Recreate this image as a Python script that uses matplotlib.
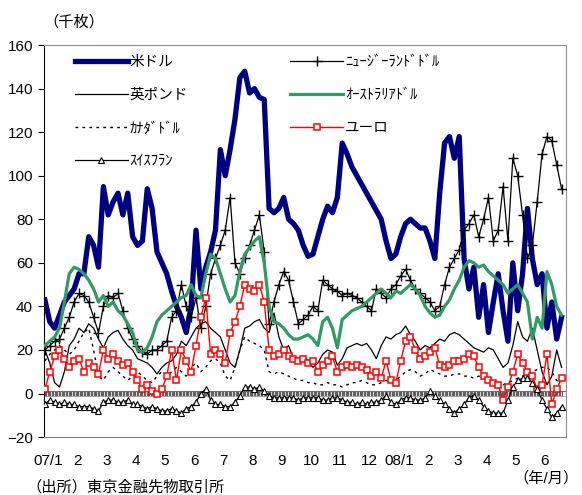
import numpy as np
import matplotlib
matplotlib.use("Agg")
import matplotlib.pyplot as plt

plt.rcParams['font.family'] = ['Liberation Sans', 'Noto Sans CJK JP', 'DejaVu Sans']

# 6 points per month, starting Jan 2007
usd = [43, 33, 30, 36, 42, 45, 48, 55, 55, 72, 68, 58, 95, 82, 88, 92, 82, 92, 72, 68,
       70, 94, 85, 65, 60, 55, 47, 40, 35, 28, 40, 75, 48, 58, 65, 75, 112, 100, 112, 126,
       145, 148, 138, 140, 136, 135, 85, 83, 85, 90, 80, 78, 75, 68, 63, 64, 72, 80, 86, 83,
       90, 115, 110, 104, 100, 96, 92, 88, 84, 80, 70, 62, 64, 72, 78, 80, 78, 76, 76, 70,
       62, 92, 115, 118, 108, 118, 62, 48, 58, 35, 50, 28, 42, 55, 38, 24, 60, 38, 55, 85,
       62, 50, 55, 30, 42, 25, 35]
nzd = [20, 22, 24, 25, 30, 35, 42, 46, 45, 42, 35, 28, 40, 45, 44, 46, 38, 30, 25, 22,
       19, 18, 20, 20, 22, 24, 35, 38, 50, 40, 35, 44, 30, 40, 55, 62, 68, 75, 90, 60,
       55, 62, 68, 75, 82, 65, 32, 42, 50, 56, 52, 42, 32, 34, 36, 40, 38, 52, 50, 48,
       47, 45, 46, 45, 44, 42, 40, 38, 48, 46, 44, 48, 50, 54, 57, 52, 48, 46, 44, 42,
       38, 40, 50, 58, 62, 66, 75, 78, 82, 72, 80, 90, 70, 75, 95, 70, 108, 100, 82, 62,
       68, 88, 110, 118, 116, 105, 94]
gbp = [20, 14, 5, 3, 10, 22, 25, 30, 28, 32, 30, 25, 21, 26, 28, 29, 25, 22, 20, 16,
       15, 14, 12, 9, 12, 14, 15, 18, 24, 22, 26, 30, 32, 33, 30, 28, 26, 20, 14, 12,
       20, 30, 31, 33, 34, 30, 28, 37, 26, 20, 22, 16, 14, 17, 15, 12, 14, 18, 20, 19,
       13, 16, 21, 22, 23, 22, 23, 20, 16, 22, 26, 25, 27, 28, 31, 27, 24, 20, 22, 21,
       23, 25, 24, 27, 28, 27, 25, 23, 21, 20, 19, 21, 20, 16, 12, 14, 22, 33, 26, 24,
       30, 20, 10, 4, 8, 20, 12]
aud = [22, 24, 26, 30, 42, 55, 58, 57, 55, 52, 48, 42, 45, 40, 42, 38, 36, 32, 28, 20,
       19, 21, 26, 33, 36, 38, 40, 42, 44, 45, 50, 45, 44, 55, 64, 62, 55, 48, 42, 45,
       56, 64, 67, 70, 72, 60, 40, 33, 32, 30, 27, 25, 25, 26, 27, 25, 22, 33, 35, 30,
       21, 34, 36, 38, 39, 40, 42, 44, 46, 48, 46, 44, 47, 46, 48, 50, 48, 45, 40, 37,
       35, 36, 40, 43, 48, 52, 58, 61, 60, 58, 59, 56, 54, 52, 50, 46, 48, 50, 46, 42,
       25, 35, 30, 56, 50, 40, 36]
cad = [15, 18, 20, 22, 20, 18, 20, 24, 28, 30, 20, 8, 6, 10, 12, 10, 8, 6, 8, 10,
       8, 6, 5, 8, 10, 8, 10, 12, 10, 8, 12, 14, 10, 12, 15, 16, 14, 8, 6, 12,
       20, 26, 24, 23, 22, 20, 10, 9, 10, 9, 8, 7, 6, 6, 5, 5, 4, 4, 5, 4,
       4, 3, 4, 5, 5, 6, 5, 4, 4, 5, 6, 5, 6, 8, 10, 11, 10, 8, 9, 11,
       10, 9, 8, 8, 9, 9, 8, 8, 7, 8, 7, 6, 6, 5, 4, 5, 6, 7, 8, 9,
       10, 11, 12, 12, 10, 6, 5]
eur = [2, 10, 17, 20, 16, 12, 15, 16, 10, 14, 12, 9, 20, 16, 18, 15, 13, 14, 10, 6,
       2, 4, 1, 0, 2, 8, 20, 6, 20, 15, 10, 22, 35, 44, 18, 20, 18, 14, 28, 33,
       40, 50, 48, 47, 50, 42, 20, 17, 18, 20, 17, 16, 15, 16, 14, 15, 10, 13, 15, 17,
       10, 12, 13, 12, 13, 12, 11, 8, 10, 7, 15, 6, 5, 15, 24, 26, 20, 16, 17, 19,
       21, 13, 12, 13, 15, 15, 16, 18, 17, 12, 8, 6, 5, 4, -3, 3, 10, 18, 14, 10,
       8, 2, 4, 18, -5, 2, 7]
chf = [-5, -3, -4, -5, -4, -5, -5, -6, -6, -6, -7, -8, -4, -3, -3, -4, -4, -3, -5, -5,
       -6, -7, -6, -7, -8, -8, -7, -8, -9, -7, -6, -4, 0, 2, -3, -5, -5, -6, -6, -4,
       -1, 3, 3, 2, 3, 1, -1, -2, -2, -2, -2, -2, -3, -2, -2, -2, -2, -3, -3, -2,
       -2, -3, -4, -4, -5, -4, -5, -4, -4, -3, -1, -4, -5, -3, -2, -2, -3, -3, -2, 1,
       -1, -3, -5, -7, -9, -7, -5, -2, -1, -3, -6, -8, -9, -9, -9, -3, 3, 6, 7, 7,
       5, 2, -3, -7, -11, -9, -6]

month_labels = ['07/1', '2', '3', '4', '5', '6', '7', '8', '9', '10', '11', '12',
                '08/1', '2', '3', '4', '5', '6']

x = np.arange(len(usd)) / 6.0

fig = plt.figure(figsize=(5.82, 4.95), dpi=100)
ax = fig.add_axes([0.0756, 0.117, 0.897, 0.792])

# category axis at zero (dense tick marks)
days = np.arange(0, 17.7, 1 / 21.0)
ax.vlines(days, -1.3, 1.3, color='#606060', lw=0.9, zorder=1)
ax.axhline(1.2, color='#707070', lw=0.8, zorder=1)
ax.axhline(-1.2, color='#a0a0a0', lw=0.6, zorder=1)

l_usd, = ax.plot(x, usd, color='#000080', lw=3.8, solid_joinstyle='round', zorder=2)
l_nzd, = ax.plot(x, nzd, color='black', lw=0.9, marker='+', ms=7, mew=1.0, zorder=3)
l_gbp, = ax.plot(x, gbp, color='black', lw=0.9, zorder=4)
l_aud, = ax.plot(x, aud, color='#339966', lw=2.3, zorder=5)
l_cad, = ax.plot(x, cad, color='black', lw=1.0, ls=(0, (2, 3)), zorder=6)
l_eur, = ax.plot(x, eur, color='red', lw=1.0, marker='s', ms=4.5, mfc='white',
                 mec='red', mew=1.1, zorder=7)
l_chf, = ax.plot(x, chf, color='black', lw=0.9, marker='^', ms=3.8, mfc='white',
                 mec='black', mew=0.8, zorder=8)

ax.set_xlim(-0.03, 17.82)
ax.set_ylim(-20, 160)
ax.set_yticks(range(-20, 161, 20))
ax.set_xticks(np.arange(18) + 0.1)
ax.set_xticklabels(month_labels)
ax.tick_params(axis='y', direction='out', length=4, labelsize=11, pad=4)
ax.tick_params(axis='x', length=0, labelsize=11, pad=12)

for s in ['top', 'right']:
    ax.spines[s].set_color('#909090')
ax.spines['left'].set_color('black')
ax.spines['bottom'].set_color('#808080')

leg = ax.legend([l_usd, l_gbp, l_cad, l_chf, l_nzd, l_aud, l_eur],
                ['米ドル', '英ポンド', 'ｶﾅﾀﾞﾄﾞﾙ', 'ｽｲｽﾌﾗﾝ',
                 'ﾆｭｰｼﾞｰﾗﾝﾄﾞﾄﾞﾙ', 'ｵｰｽﾄﾗﾘｱﾄﾞﾙ', 'ユーロ'],
                ncol=2, loc='upper left', bbox_to_anchor=(0.04, 1.0),
                frameon=False, fontsize=10.5, handlelength=3.6, handletextpad=0.15,
                labelspacing=1.3, columnspacing=7.0, borderaxespad=0.3)

fig.text(0.075, 0.955, '（千枚）', fontsize=11, ha='left', va='center')
fig.text(0.995, 0.033, '（年/月）', fontsize=11, ha='right', va='center')
fig.text(0.045, 0.015, '（出所）東京金融先物取引所', fontsize=11, ha='left', va='center')

fig.savefig('out.png', dpi=100)
